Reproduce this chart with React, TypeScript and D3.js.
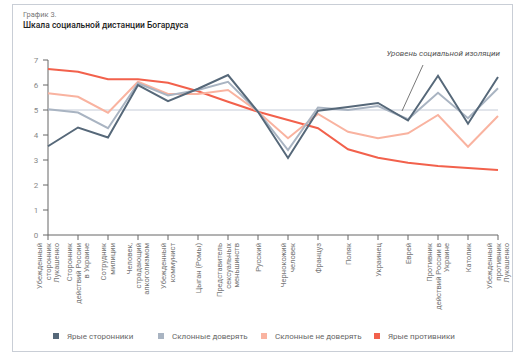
import React from "react";
import * as d3 from "d3";

const categories: string[][] = [
  ["Убежденный", "сторонник", "Лукашенко"],
  ["Сторонник", "действий России", "в Украине"],
  ["Сотрудник", "милиции"],
  ["Человек,", "страдающий", "алкоголизмом"],
  ["Убежденный", "коммунист"],
  ["Цыган (Ромы)"],
  ["Представитель", "сексуальных", "меньшинств"],
  ["Русский"],
  ["Чернокожий", "человек"],
  ["Француз"],
  ["Поляк"],
  ["Украинец"],
  ["Еврей"],
  ["Противник", "действий России в", "Украине"],
  ["Католик"],
  ["Убежденный", "противник", "Лукашенко"],
];

const seriesNames = ["Ярые сторонники", "Склонные доверять", "Склонные не доверять", "Ярые противники"];
const strongSupporters = [3.55, 4.3, 3.9, 6.0, 5.35, 5.85, 6.4, 4.93, 3.08, 4.97, 5.12, 5.28, 4.58, 6.37, 4.45, 6.32];
const inclinedTrust = [5.03, 4.9, 4.27, 6.07, 5.58, 5.8, 6.13, 4.93, 3.4, 5.1, 5.0, 5.16, 4.63, 5.69, 4.67, 5.87];
const inclinedDistrust = [5.67, 5.53, 4.89, 6.13, 5.64, 5.64, 5.8, 4.93, 3.87, 4.84, 4.13, 3.87, 4.07, 4.8, 3.53, 4.76];
const strongOpponents = [6.64, 6.53, 6.23, 6.23, 6.09, 5.75, 5.33, 4.93, 4.6, 4.27, 3.43, 3.09, 2.89, 2.76, 2.68, 2.6];
const yTicks = [0, 1, 2, 3, 4, 5, 6, 7];
const isolationLevel = 5;

const colors = ["#566879", "#a9b4c2", "#f9b3a0", "#f2614c"];
const FONT = "Roboto, 'Noto Sans', sans-serif";

export default function App() {
  const W = 528, H = 357;
  const x = d3.scalePoint<number>().domain(d3.range(categories.length)).range([48, 498]);
  const y = d3.scaleLinear().domain([0, 7]).range([235, 60]);
  const allSeries = [strongSupporters, inclinedTrust, inclinedDistrust, strongOpponents];
  const line = d3.line<number>().x((_, i) => x(i)!).y((d) => y(d));
  const order = [3, 2, 1, 0];
  const legendX = [53, 158, 261, 374];
  return (
    <svg width={W} height={H} style={{ position: "absolute", left: 0, top: 0, fontFamily: FONT }}>
      <rect x={0} y={0} width={W} height={H} fill="#fff" />
      <rect x={12.5} y={4.5} width={500} height={347} fill="none" stroke="#c9ced6" strokeWidth={1} />
      <text x={23} y={17} fontSize={7.5} fill="#777">График 3.</text>
      <text x={23} y={28} fontSize={8.5} fill="#222" fontWeight={500}>Шкала социальной дистанции Богардуса</text>

      {/* reference line */}
      <line x1={48} x2={498} y1={y(isolationLevel)} y2={y(isolationLevel)} stroke="#c5ccd8" strokeWidth={1} />

      {/* y axis */}
      <line x1={48} x2={48} y1={y(7)} y2={y(0)} stroke="#666" strokeWidth={1} />
      {yTicks.map((t) => (
        <g key={t}>
          <line x1={43} x2={48} y1={y(t)} y2={y(t)} stroke="#666" />
          <text x={36} y={y(t) + 3} fontSize={8} fill="#888" textAnchor="middle">{t}</text>
        </g>
      ))}

      {/* x axis */}
      <line x1={48} x2={498} y1={y(0)} y2={y(0)} stroke="#666" strokeWidth={1} />
      {categories.map((lines, i) => {
        const cx = x(i)!;
        const n = lines.length;
        const lh = 8.5;
        return (
          <g key={i}>
            <line x1={cx} x2={cx} y1={y(0)} y2={y(0) + 5} stroke="#666" />
            <text transform={`translate(${cx},243) rotate(-90)`} fontSize={7.5} fill="#777" textAnchor="end">
              {lines.map((l, j) => (
                <tspan key={j} x={0} y={(j - (n - 1) / 2) * lh + 2.7}>{l}</tspan>
              ))}
            </text>
          </g>
        );
      })}

      {/* lines */}
      {order.map((k) => (
        <path key={k} d={line(allSeries[k]) || ""} fill="none" stroke={colors[k]} strokeWidth={2} strokeLinejoin="miter" />
      ))}

      {/* annotation */}
      <line x1={423} y1={65} x2={402} y2={111} stroke="#555" strokeWidth={0.8} />
      <text x={500} y={56} fontSize={8} fill="#555" fontStyle="italic" textAnchor="end">Уровень социальной изоляции</text>

      {/* legend */}
      {seriesNames.map((s, i) => (
        <g key={s}>
          <rect x={legendX[i]} y={333} width={6} height={6} fill={colors[i]} />
          <text x={legendX[i] + 14} y={339} fontSize={8} fill="#666">{s}</text>
        </g>
      ))}
    </svg>
  );
}
